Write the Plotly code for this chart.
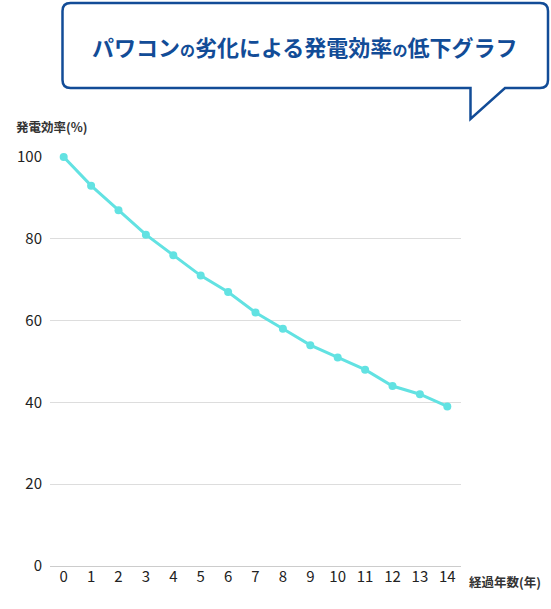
import plotly.graph_objects as go

W, H = 551, 609

years = list(range(15))
x_labels = [str(y) for y in years]
efficiency = [100, 93, 87, 81, 76, 71, 67, 62, 58, 54, 51, 48, 44, 42, 39]
y_ticks = [0, 20, 40, 60, 80, 100]

title_text = "パワコン<span style='font-size:15px'>の</span>劣化による発電効率<span style='font-size:15px'>の</span>低下グラフ"
y_label = "発電効率(%)"
x_label = "経過年数(年)"

LINE_COLOR = "#62E2E2"
NAVY = "#124C97"
FONT = "Noto Sans CJK JP, Noto Sans, sans-serif"


def px(x):
    return x / W


def py(y):
    return 1 - y / H


# plot area in window pixels
L, R, T, B = 50, 461, 157, 566

fig = go.Figure()
fig.add_trace(go.Scatter(
    x=years, y=efficiency, mode="lines+markers",
    line=dict(color=LINE_COLOR, width=3),
    marker=dict(color=LINE_COLOR, size=8),
    cliponaxis=False, hoverinfo="x+y", showlegend=False,
))

fig.update_layout(
    width=W, height=H,
    margin=dict(l=0, r=0, t=0, b=0),
    paper_bgcolor="white", plot_bgcolor="white",
    font=dict(family=FONT, color="#222222"),
    xaxis=dict(
        domain=[px(L), px(R)], range=[-0.5, 14.5],
        tickvals=years, ticktext=x_labels,
        showgrid=False, zeroline=False, showline=False,
        ticks="", tickfont=dict(size=15, color="#222222"),
        automargin=False, fixedrange=True,
    ),
    yaxis=dict(
        domain=[py(B), py(T)], range=[0, 100],
        tickvals=y_ticks, showgrid=True, gridcolor="#DDDDDD", gridwidth=1,
        zeroline=True, zerolinecolor="#CCCCCC", zerolinewidth=1,
        showline=False, ticks="", ticklabelstandoff=7,
        tickfont=dict(size=15, color="#222222"),
        automargin=False, fixedrange=True,
    ),
)

# speech bubble
x0, x1, y0, y1, r = 62.5, 548, 3, 88, 8
tl, tr_ = 470.5, 505
tip_y = 119
pts = [
    ("M", x0 + r, y0),
    ("L", x1 - r, y0),
    ("Q", x1, y0, x1, y0 + r),
    ("L", x1, y1 - r),
    ("Q", x1, y1, x1 - r, y1),
    ("L", tr_, y1),
    ("L", tl, tip_y),
    ("L", tl, y1),
    ("L", x0 + r, y1),
    ("Q", x0, y1, x0, y1 - r),
    ("L", x0, y0 + r),
    ("Q", x0, y0, x0 + r, y0),
]
path = ""
for p in pts:
    cmd = p[0]
    coords = p[1:]
    s = []
    for i in range(0, len(coords), 2):
        s.append(f"{px(coords[i]):.5f},{py(coords[i+1]):.5f}")
    path += cmd + " " + " ".join(s) + " "
path += "Z"
fig.add_shape(type="path", path=path, xref="paper", yref="paper",
              line=dict(color=NAVY, width=2.5), fillcolor="white", layer="above")

fig.add_annotation(
    text="<b>" + title_text + "</b>", x=px(304), y=py(46), xref="paper", yref="paper",
    showarrow=False, xanchor="center", yanchor="middle",
    font=dict(size=22, color=NAVY, family=FONT),
)

fig.add_annotation(
    text="<b>" + y_label + "</b>", x=px(14), y=py(127), xref="paper", yref="paper",
    showarrow=False, xanchor="left", yanchor="middle",
    font=dict(size=12.5, color="#333333", family=FONT),
)
fig.add_annotation(
    text="<b>" + x_label + "</b>", x=px(467), y=py(581), xref="paper", yref="paper",
    showarrow=False, xanchor="left", yanchor="middle",
    font=dict(size=12.5, color="#333333", family=FONT),
)

fig.write_html(
    "out.html",
    config={"displayModeBar": False},
    post_script="document.body.style.margin='0';document.body.style.overflow='hidden';",
)
